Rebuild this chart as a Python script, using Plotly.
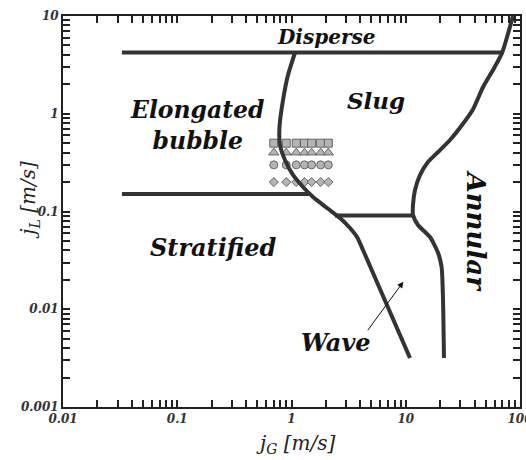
import numpy as np
import plotly.graph_objects as go

# ---- data ----
top_x = [0.0328, 70.0]
top_y = [4.23, 4.23]

low_x = [0.0328, 1.48]
low_y = [0.151, 0.151]

mid_x = [2.40, 11.57]
mid_y = [0.091, 0.091]

left_x = [1.073, 0.932, 0.843, 0.785, 0.793, 0.877, 1.031, 1.261, 1.543, 2.045, 2.658, 3.25, 3.745, 4.226, 10.89]
left_y = [4.23, 2.49, 1.383, 0.732, 0.479, 0.336, 0.2363, 0.178, 0.1407, 0.1086, 0.0858, 0.0678, 0.0548, 0.0404, 0.00317]

right_x = [86.8, 69.6, 58.0, 47.5, 38.5, 31.1, 24.4, 19.2, 15.65, 13.32, 12.05, 11.57, 11.57, 12.8, 16.3, 19.2, 20.6, 21.2, 21.6]
right_y = [10.0, 4.18, 2.80, 1.878, 1.092, 0.767, 0.539, 0.406, 0.321, 0.236, 0.166, 0.1166, 0.0921, 0.0728, 0.0548, 0.0376, 0.0271, 0.01243, 0.00317]

pts_x = [0.7, 0.9, 1.1, 1.3, 1.5, 1.8, 2.1]
sq_y = 0.5
tri_y = 0.4
circ_y = 0.3
dia_y = 0.2

x_ticks = [0.01, 0.1, 1, 10, 100]
x_ticktext = ["0.01", "0.1", "1", "10", "100"]
y_ticks = [0.001, 0.01, 0.1, 1, 10]
y_ticktext = ["0.001", "0.01", "0.1", "1", "10"]

arrow_head = (9.52, 0.0191)
arrow_tail = (4.55, 0.00589)

FONT = "DejaVu Serif"
LINE_C = "#333333"

fig = go.Figure()

mk_fill = "#b4b4b4"
mk_line = dict(color="#666666", width=1)
for yv, sym, sz in [(sq_y, "square", 8), (tri_y, "triangle-up", 9), (circ_y, "circle", 8), (dia_y, "diamond", 7)]:
    fig.add_trace(go.Scatter(x=pts_x, y=[yv] * len(pts_x), mode="markers",
                             marker=dict(symbol=sym, size=sz, color=mk_fill, line=mk_line),
                             showlegend=False, hoverinfo="skip"))

for xs, ys, shp in [(top_x, top_y, "linear"), (low_x, low_y, "linear"), (mid_x, mid_y, "linear"),
                    (left_x, left_y, "spline"), (right_x, right_y, "spline")]:
    fig.add_trace(go.Scatter(x=xs, y=ys, mode="lines",
                             line=dict(color=LINE_C, width=4, shape=shp, smoothing=0.6),
                             showlegend=False, hoverinfo="skip"))

def minor_vals(lo, hi):
    out = []
    for e in range(lo, hi):
        for d in range(2, 10):
            out.append(d * 10.0 ** e)
    return out

axis_common = dict(
    type="log", showgrid=False, zeroline=False, automargin=False,
    showline=True, linecolor="#222222", linewidth=2, mirror="allticks",
    ticks="inside", ticklen=7, tickwidth=1.5, tickcolor="#222222",
    ticklabeloverflow="allow",
    tickfont=dict(family=FONT, size=12, color="#333333", style="italic", weight="bold"),
)

fig.update_xaxes(range=[-2, 2], tickvals=x_ticks, ticktext=x_ticktext,
                 minor=dict(ticks="inside", ticklen=7, tickwidth=1.5, tickcolor="#222222",
                            tickvals=minor_vals(-2, 2)),
                 **axis_common)
fig.update_yaxes(range=[-3, 1], tickvals=y_ticks, ticktext=y_ticktext,
                 minor=dict(ticks="inside", ticklen=7, tickwidth=1.5, tickcolor="#222222",
                            tickvals=minor_vals(-3, 1)),
                 **axis_common)

label_font = dict(family=FONT, color="#111111", style="italic", weight="bold")

def lab(text, px, py, size, angle=0):
    fig.add_annotation(text=text, xref="paper", yref="paper", x=px, y=py,
                       xanchor="center", yanchor="middle",
                       showarrow=False, textangle=angle,
                       font=dict(size=size, **label_font))

lab("Disperse", 0.5755, 0.946, 20)
lab("Slug", 0.685, 0.785, 23)
lab("Elongated<br>bubble", 0.2954, 0.72, 23.5)
lab("Stratified", 0.330, 0.407, 24)
lab("Wave", 0.597, 0.166, 24)
lab("Annular", 0.904, 0.451, 26, angle=90)

fig.add_annotation(x=np.log10(arrow_head[0]), y=np.log10(arrow_head[1]),
                   ax=np.log10(arrow_tail[0]), ay=np.log10(arrow_tail[1]),
                   xref="x", yref="y", axref="x", ayref="y", text="",
                   showarrow=True, arrowhead=2, arrowsize=1.2, arrowwidth=1,
                   arrowcolor="#111111")

title_font = dict(family=FONT, size=20, color="#222222", style="italic")
fig.add_annotation(text="j<sub>G</sub> [m/s]", xref="paper", yref="paper",
                   x=0.51, y=-0.0946, xanchor="center", yanchor="middle",
                   showarrow=False, font=title_font)
fig.add_annotation(text="j<sub>L</sub> [m/s]", xref="paper", yref="paper",
                   x=-0.0733, y=0.529, xanchor="center", yanchor="middle",
                   showarrow=False, textangle=-90, font=title_font)

fig.update_layout(width=526, height=460,
                  margin=dict(l=63, r=6, t=16, b=53, autoexpand=False),
                  plot_bgcolor="white", paper_bgcolor="white")

fig.write_html("out.html", config={"displayModeBar": False},
               post_script="document.body.style.margin='0';document.body.style.overflow='hidden';")
